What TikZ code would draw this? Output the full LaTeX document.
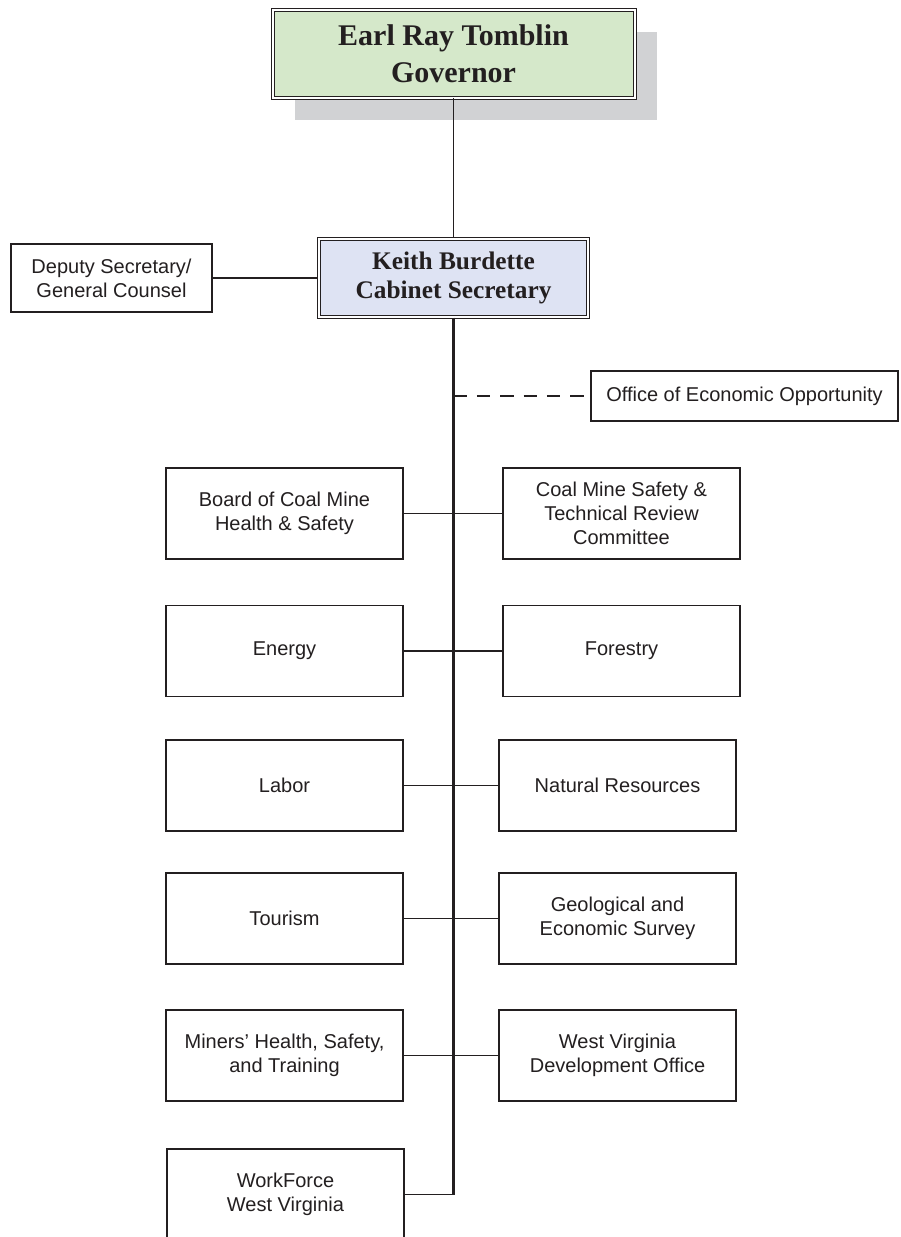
\documentclass[tikz,border=0pt]{standalone}
\usepackage{fontspec}
\setmainfont{Liberation Serif}
\setsansfont{Liberation Sans}
\usetikzlibrary{positioning, shadows}
\definecolor{govgreen}{RGB}{213,232,202}
\definecolor{secblue}{RGB}{222,227,243}
\definecolor{shadowgray}{RGB}{209,210,212}
\definecolor{inkgray}{RGB}{35,31,32}

\begin{document}
\begin{tikzpicture}[
    x=0.75pt, y=-0.75pt,
    unitbox/.style={draw=inkgray, line width=1pt, fill=white, text=inkgray, align=center,
        font=\sffamily\fontsize{15}{18}\selectfont, inner sep=2pt,
        minimum width=177.75pt, minimum height=68.25pt},
    headbox/.style={draw=inkgray, double, double distance=1.5pt, line width=0.75pt, text=inkgray,
        align=center, inner sep=2pt},
    link/.style={draw=inkgray, line width=1pt},
    spine/.style={draw=inkgray, line width=1.6pt},
]
    \useasboundingbox (0,0) rectangle (900,1237);

    % governor and cabinet secretary
    \node[headbox, fill=govgreen, minimum width=271.5pt, minimum height=66pt,
          font=\bfseries\fontsize{22.5}{27.5}\selectfont,
          drop shadow={shadow xshift=16.5pt, shadow yshift=-16.5pt, fill=shadowgray, opacity=1}]
          (gov) at (453.5,54) {Earl Ray Tomblin\\Governor};
    \node[headbox, fill=secblue, minimum width=202pt, minimum height=58.5pt,
          font=\bfseries\fontsize{19}{21.5}\selectfont]
          (sec) at (453.5,278) {Keith Burdette\\Cabinet Secretary};
    \node[unitbox, minimum width=150.75pt, minimum height=51pt] (deputy) at (111.5,278)
          {Deputy Secretary/\\General Counsel};
    \node[unitbox, minimum width=230.25pt, minimum height=37.5pt] (oeo) at (744.5,396)
          {Office of Economic Opportunity};

    % divisions, left column
    \node[unitbox] (board)   at (284.5,513.5)  {Board of Coal Mine\\Health \& Safety};
    \node[unitbox] (energy)  at (284.5,651)    {Energy};
    \node[unitbox] (labor)   at (284.5,785.5)  {Labor};
    \node[unitbox] (tourism) at (284.5,918.5)  {Tourism};
    \node[unitbox] (miners)  at (284.5,1055.5) {Miners' Health, Safety,\\and Training};
    \node[unitbox] (wfwv)    at (285.5,1194.5) {WorkForce\\West Virginia};

    % divisions, right column
    \node[unitbox] (review)   at (621.5,513.5)  {Coal Mine Safety \&\\Technical Review\\Committee};
    \node[unitbox] (forestry) at (621.5,651)    {Forestry};
    \node[unitbox] (natres)   at (617.5,785.5)  {Natural Resources};
    \node[unitbox] (survey)   at (617.5,918.5)  {Geological and\\Economic Survey};
    \node[unitbox] (wvdo)     at (617.5,1055.5) {West Virginia\\Development Office};

    % lines
    \draw[link] (gov.south) -- (sec.north);
    \draw[link] (deputy.east) -- (sec.west);
    \draw[spine] (sec.south) -- (sec.south |- wfwv.east);
    \draw[link] (sec.south |- wfwv.east) -- (wfwv.east);
    \draw[link, dash pattern=on 10pt off 7.5pt] (sec.south |- oeo.west) -- (oeo.west);
    \foreach \l/\r in {board/review, energy/forestry, labor/natres, tourism/survey, miners/wvdo}
        \draw[link] (\l.east) -- (\r.west);
\end{tikzpicture}
\end{document}
